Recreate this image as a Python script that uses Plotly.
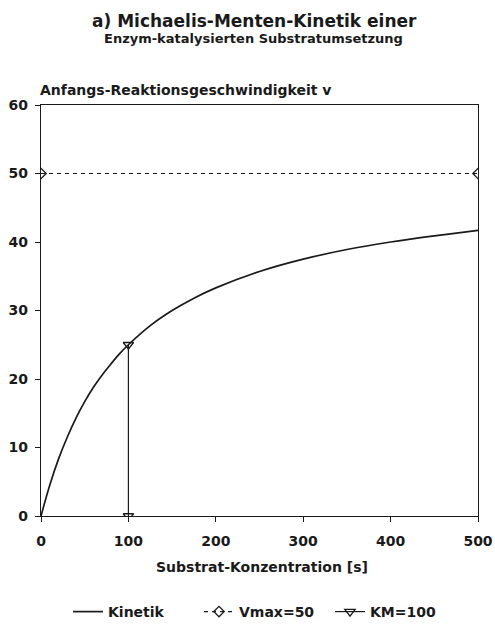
import plotly.graph_objects as go

# Data
s_kin = [0, 10, 20, 30, 40, 50, 60, 70, 80, 90, 100, 125, 150, 175, 200, 250, 300, 350, 400, 450, 500]
v_kin = [0, 4.5, 8.3, 11.5, 14.3, 16.7, 18.8, 20.6, 22.2, 23.7, 25.0, 27.8, 30.0, 31.8, 33.3, 35.7, 37.5, 38.9, 40.0, 40.9, 41.7]
s_vmax = [0, 500]
v_vmax = [50, 50]
s_km = [100, 100]
v_km = [0, 25]
x_ticks = [0, 100, 200, 300, 400, 500]
y_ticks = [0, 10, 20, 30, 40, 50, 60]

INK = "#1a1a1a"
FONT = "DejaVu Sans"

fig = go.Figure()
fig.add_trace(go.Scatter(x=s_kin, y=v_kin, mode="lines", name="Kinetik",
                         line=dict(color=INK, width=1.7), line_shape="spline"))
fig.add_trace(go.Scatter(x=s_vmax, y=v_vmax, mode="lines+markers", name="Vmax=50",
                         line=dict(color=INK, width=1.2, dash="4px,4px"),
                         marker=dict(symbol="diamond-open", size=8, color=INK, line=dict(width=1.3))))
fig.add_trace(go.Scatter(x=s_km, y=v_km, mode="lines+markers", name="KM=100",
                         line=dict(color=INK, width=1.2),
                         marker=dict(symbol="triangle-down-open", size=9, color=INK, line=dict(width=1.3))))

axis_common = dict(showgrid=False, zeroline=False, showline=True, linecolor=INK, linewidth=1.4,
                   mirror=True, ticks="outside", ticklen=5, tickwidth=1.3, tickcolor=INK,
                   tickfont=dict(family=FONT, size=14, color=INK, weight="bold"))

PT, PB, PL, PR = 105, 516, 41, 478
H = PB - PT
W = PR - PL

def py(pix):
    return (PB - pix) / H

def px(pix):
    return (pix - PL) / W

fig.update_layout(
    width=495, height=625,
    margin=dict(l=PL, r=495 - PR, t=PT, b=625 - PB, autoexpand=False),
    paper_bgcolor="white", plot_bgcolor="white",
    showlegend=True,
    legend=dict(orientation="h", x=px(68), xanchor="left", y=py(612), yanchor="middle",
                font=dict(family=FONT, size=14, color=INK, weight="bold"),
                entrywidth=86, entrywidthmode="pixels", itemwidth=30, tracegroupgap=0,
                borderwidth=0),
    xaxis=dict(range=[0, 500], tickvals=x_ticks, ticklabelstandoff=7, **axis_common),
    yaxis=dict(range=[0, 60], tickvals=y_ticks, ticklabelstandoff=4, **axis_common),
    annotations=[
        dict(text="a) Michaelis-Menten-Kinetik einer", xref="paper", yref="paper",
             x=px(254), y=py(21), xanchor="center", yanchor="middle", showarrow=False,
             font=dict(family=FONT, size=17, color=INK, weight="bold")),
        dict(text="Enzym-katalysierten Substratumsetzung", xref="paper", yref="paper",
             x=px(253), y=py(39), xanchor="center", yanchor="middle", showarrow=False,
             font=dict(family=FONT, size=13, color=INK, weight="bold")),
        dict(text="Anfangs-Reaktionsgeschwindigkeit v", xref="paper", yref="paper",
             x=px(38), y=py(90), xanchor="left", yanchor="middle", showarrow=False,
             font=dict(family=FONT, size=14, color=INK, weight="bold")),
        dict(text="Substrat-Konzentration [s]", xref="paper", yref="paper",
             x=px(262), y=py(567), xanchor="center", yanchor="middle", showarrow=False,
             font=dict(family=FONT, size=14, color=INK, weight="bold")),
    ],
)

fig.write_html("out.html")
